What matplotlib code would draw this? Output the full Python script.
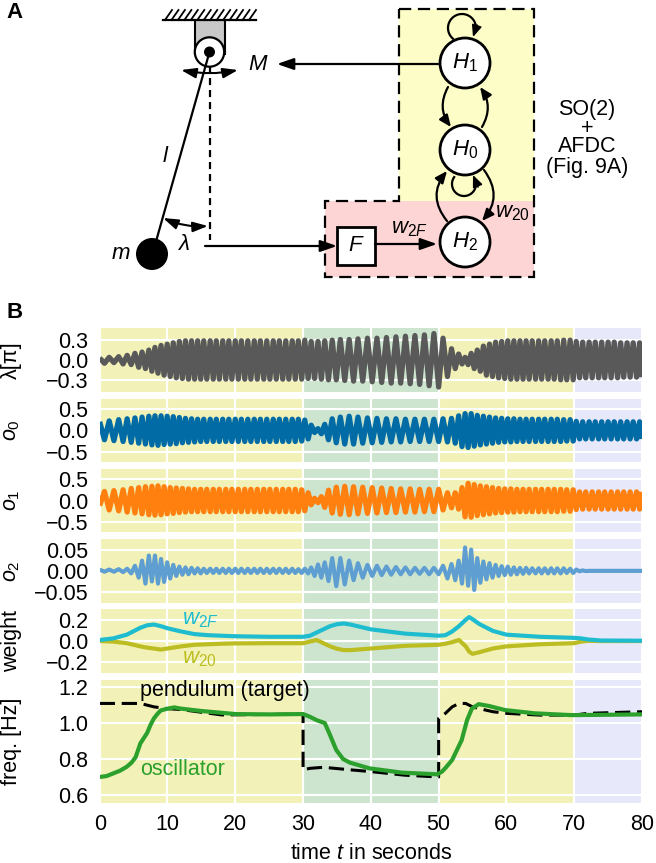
import numpy as np
import matplotlib
matplotlib.use('Agg')
import matplotlib.pyplot as plt
from matplotlib.patches import Circle, Rectangle, Polygon, FancyArrowPatch

plt.rcParams['font.family'] = ['Liberation Sans', 'DejaVu Sans']
plt.rcParams['mathtext.fontset'] = 'custom'
plt.rcParams['mathtext.rm'] = 'Liberation Sans'
plt.rcParams['mathtext.it'] = 'Liberation Sans:italic'
plt.rcParams['mathtext.bf'] = 'Liberation Sans:bold'

W, H = 656, 863

band_edges = [0, 30, 50, 70, 80]
band_colors = ['#f2f2b8', '#cde5cf', '#f2f2b8', '#e8e8fb']

# times of the oscillation extremes, read cycle by cycle
t_ext = [0.0, 0.7, 1.4, 2.1, 2.8, 3.45, 4.05, 4.65, 5.2, 5.75,
         6.25, 6.75, 7.25, 7.7, 8.15, 8.6, 9.05, 9.5, 9.95, 10.4,
         10.85, 11.3, 11.75, 12.2, 12.65, 13.1, 13.55, 14.0, 14.45, 14.9,
         15.35, 15.8, 16.3, 16.75, 17.2, 17.65, 18.15, 18.6, 19.05, 19.5,
         20.0, 20.45, 20.9, 21.4, 21.85, 22.3, 22.8, 23.25, 23.7, 24.2,
         24.65, 25.1, 25.6, 26.05, 26.5, 27.0, 27.45, 27.9, 28.4, 28.85,
         29.3, 29.8, 30.25, 30.75, 31.2, 31.7, 32.2, 32.7, 33.2, 33.75,
         34.3, 34.9, 35.5, 36.15, 36.8, 37.45, 38.1, 38.8, 39.5, 40.2,
         40.9, 41.6, 42.3, 43.0, 43.7, 44.4, 45.1, 45.8, 46.5, 47.2,
         47.9, 48.6, 49.3, 50.0, 50.65, 51.3, 51.9, 52.45, 52.95, 53.45,
         53.9, 54.35, 54.8, 55.25, 55.7, 56.15, 56.6, 57.05, 57.5, 57.95,
         58.4, 58.85, 59.3, 59.75, 60.2, 60.65, 61.1, 61.55, 62.0, 62.45,
         62.9, 63.35, 63.8, 64.3, 64.75, 65.2, 65.65, 66.15, 66.6, 67.05,
         67.5, 68.0, 68.45, 68.9, 69.4, 69.85, 70.3, 70.8, 71.25, 71.7,
         72.2, 72.65, 73.1, 73.6, 74.05, 74.5, 75.0, 75.45, 75.9, 76.4,
         76.85, 77.3, 77.8, 78.25, 78.7, 79.2, 79.65, 80.0]

# size of each half swing, sign flips every extreme
lam_amp = [.03, .05, .04, .04, .05, .06, .07, .07, .10, .11,
           .12, .13, .15, .17, .19, .20, .22, .23, .24, .25,
           .26, .27, .28, .28, .29, .29, .29, .29, .29, .29,
           .29, .29, .29, .29, .29, .29, .29, .29, .29, .29,
           .29, .29, .29, .29, .29, .29, .29, .29, .29, .29,
           .29, .29, .29, .29, .29, .29, .29, .29, .29, .29,
           .29, .29, .30, .28, .28, .28, .28, .29, .29, .30,
           .30, .30, .31, .31, .31, .32, .32, .32, .33, .33,
           .33, .34, .34, .35, .35, .35, .36, .36, .37, .37,
           .38, .39, .40, .41, .33, .25, .17, .13, .09, .06,
           .04, .07, .10, .13, .15, .17, .21, .23, .24, .25,
           .27, .27, .28, .28, .29, .29, .29, .29, .29, .29,
           .29, .29, .29, .29, .29, .29, .29, .29, .29, .29,
           .29, .30, .30, .30, .30, .30, .28, .27, .27, .27,
           .27, .27, .27, .27, .27, .27, .27, .27, .27, .27,
           .26, .26, .26, .26, .26, .26, .26, .26]

o0_amp = [.20, .22, .22, .24, .25, .26, .27, .28, .29, .30,
          .31, .32, .33, .34, .34, .35, .34, .33, .33, .32,
          .32, .31, .30, .29, .28, .28, .27, .27, .26, .26,
          .26, .26, .26, .26, .26, .26, .26, .26, .26, .26,
          .26, .26, .26, .26, .26, .26, .26, .26, .26, .26,
          .26, .26, .26, .26, .26, .26, .26, .26, .26, .26,
          .26, .25, .24, .20, .12, .05, .04, .08, .14, .22,
          .27, .29, .31, .32, .33, .32, .31, .30, .29, .29,
          .28, .28, .27, .27, .27, .27, .26, .26, .26, .26,
          .26, .26, .26, .26, .27, .27, .28, .30, .34, .38,
          .39, .40, .39, .37, .35, .34, .33, .32, .31, .30,
          .29, .28, .28, .27, .27, .27, .27, .26, .26, .26,
          .26, .26, .26, .26, .26, .26, .26, .26, .26, .26,
          .26, .26, .25, .25, .25, .25, .21, .20, .20, .20,
          .20, .20, .20, .20, .20, .20, .20, .20, .20, .20,
          .20, .20, .20, .20, .20, .20, .20, .20]

o1_amp = [.12, .21, .22, .23, .24, .25, .27, .28, .29, .30,
          .31, .32, .33, .33, .34, .34, .33, .32, .31, .30,
          .30, .29, .28, .28, .27, .27, .26, .26, .26, .26,
          .26, .26, .26, .26, .26, .26, .26, .26, .26, .26,
          .26, .26, .26, .26, .26, .26, .26, .26, .26, .26,
          .26, .26, .26, .26, .26, .26, .26, .26, .26, .26,
          .26, .25, .24, .18, .10, .05, .05, .09, .16, .24,
          .29, .31, .32, .33, .33, .32, .31, .31, .30, .30,
          .29, .29, .28, .28, .28, .27, .27, .27, .27, .26,
          .26, .26, .26, .26, .22, .18, .17, .18, .20, .30,
          .38, .40, .39, .37, .35, .34, .33, .32, .31, .30,
          .29, .28, .28, .27, .27, .27, .27, .26, .26, .26,
          .26, .26, .26, .26, .26, .26, .26, .26, .26, .26,
          .26, .26, .25, .25, .25, .25, .21, .20, .20, .20,
          .20, .20, .20, .20, .20, .20, .20, .20, .20, .20,
          .20, .20, .20, .20, .20, .20, .20, .20]

o2_amp = [.003, .002, .003, .002, .004, .003, .005, .006, .012, .016,
          .024, .030, .036, .025, .036, .030, .028, .026, .020, .018,
          .014, .012, .010, .009, .008, .008, .007, .006, .006, .006,
          .005, .005, .005, .005, .005, .005, .005, .005, .005, .005,
          .005, .005, .005, .005, .005, .005, .005, .005, .005, .005,
          .005, .005, .005, .005, .005, .005, .005, .005, .005, .005,
          .004, .005, .005, .006, .008, .012, .015, .016, .020, .024,
          .030, .036, .030, .032, .024, .022, .018, .016, .014, .012,
          .012, .010, .010, .009, .009, .008, .008, .008, .007, .007,
          .007, .008, .007, .008, .012, .018, .016, .022, .024, .030,
          .055, .035, .050, .045, .030, .028, .022, .020, .018, .016,
          .014, .012, .011, .010, .010, .009, .008, .008, .007, .007,
          .007, .006, .006, .006, .006, .006, .006, .006, .006, .006,
          .006, .006, .006, .005, .005, .005, .003, .001, .001, .0005,
          0, 0, 0, 0, 0, 0, 0, 0, 0, 0,
          0, 0, 0, 0, 0, 0, 0, 0]

t_w = [0, 2, 4, 6, 7, 8, 9, 10, 12, 14, 16, 18, 20, 25, 30, 31, 32, 33, 34, 35, 36, 37, 38,
       40, 45, 50, 51, 52, 53, 54, 54.5, 55, 56, 58, 60, 65, 70, 71, 72, 74, 80]
w2f = [.01, .025, .06, .125, .148, .155, .14, .12, .09, .065, .055, .05, .045, .04, .04, .05, .08, .11, .14, .158, .165, .155, .14,
       .11, .07, .05, .055, .09, .14, .20, .225, .205, .16, .095, .06, .04, .03, .025, .015, .005, .003]
w20 = [0, -.005, -.02, -.05, -.062, -.07, -.08, -.07, -.05, -.035, -.03, -.025, -.022, -.02, -.02, -.005, .01, -.02, -.05, -.072, -.085, -.085, -.08,
       -.07, -.045, -.035, -.025, -.01, .01, -.05, -.10, -.12, -.105, -.07, -.05, -.03, -.02, -.005, .002, 0, 0]

t_osc = [0, 1, 2, 3, 4, 4.7, 5.3, 6, 7, 7.5, 8, 8.5, 9, 10, 11, 12, 15, 20, 25, 30, 31, 32, 33.2, 33.9, 34.9, 35.9, 36.9, 39.8, 44.6, 49.8,
         50.5, 51, 52, 52.7, 53.4, 54.2, 54.9, 55.9, 57.4, 59.8, 64.2, 69.6, 80]
f_osc = [.70, .705, .72, .735, .757, .78, .81, .887, .945, .99, 1.026, 1.05, 1.07, 1.08, 1.087, 1.08, 1.067, 1.05, 1.048, 1.05, 1.035, 1.016, 1.0, .94, .85, .80, .78, .748, .724, .715,
         .73, .75, .795, .85, .905, 1.017, 1.08, 1.105, 1.095, 1.072, 1.054, 1.044, 1.048]

t_tgt = [0, 6, 8, 10, 12, 15, 18, 30, 30, 31, 33, 36.9, 40, 45, 50, 50, 51, 52, 53, 54, 55, 56, 58, 60, 65, 70, 72, 80]
f_tgt = [1.109, 1.109, 1.09, 1.08, 1.075, 1.06, 1.045, 1.05, .74, .748, .754, .74, .73, .71, .70, 1.026, 1.054, 1.09, 1.109, 1.109, 1.09, 1.08, 1.063, 1.054, 1.044, 1.044, 1.054, 1.063]

x_ticks = [0, 10, 20, 30, 40, 50, 60, 70, 80]


def px_axes(fig, top, bottom, left=99.7, right=642):
    return fig.add_axes([left / W, 1 - bottom / H, (right - left) / W, (bottom - top) / H])


def swing(amp, first=1):
    amp = np.array(amp)
    return first * amp * (-1.0) ** np.arange(len(amp))


def arrow(ax, a, b, rad=0.0, style='-|>', lw=1.6, hl=7, hw=3):
    ax.add_patch(FancyArrowPatch(a, b, connectionstyle='arc3,rad=%g' % rad,
                                 arrowstyle='%s,head_length=%g,head_width=%g' % (style, hl, hw),
                                 shrinkA=0, shrinkB=0, lw=lw, color='k', mutation_scale=1, zorder=4))


fig = plt.figure(figsize=(W / 100, H / 100), dpi=100)

# schematic, drawn in pixel coordinates
ov = fig.add_axes([0, 0, 1, 1])
ov.set_xlim(0, W)
ov.set_ylim(H, 0)
ov.axis('off')

ov.text(6, 13, 'A', fontsize=16, fontweight='bold', va='center')
ov.text(6, 312, 'B', fontsize=16, fontweight='bold', va='center')

# ceiling and bearing
ov.plot([163, 256], [20.5, 20.5], 'k', lw=1.6)
for hx in np.linspace(165, 249, 14):
    ov.plot([hx, hx + 7], [20, 10], 'k', lw=1.3)
ov.add_patch(Rectangle((195, 20.5), 30, 32, fc='#c8c8c8', ec='none', zorder=1))
ov.plot([195, 195], [20.5, 54], 'k', lw=1.5, zorder=2)
ov.plot([225, 225], [20.5, 54], 'k', lw=1.5, zorder=2)
ov.add_patch(Circle((209.5, 52), 14.7, fc='w', ec='k', lw=1.6, zorder=3))
ov.add_patch(Circle((209.5, 52), 5.5, fc='k', ec='none', zorder=5))

# pendulum
ov.plot([209.5, 155], [52, 245], 'k', lw=1.6, zorder=4)
ov.add_patch(Circle((152, 254), 16, fc='k', ec='none', zorder=5))
ov.plot([209.5, 209.5], [66, 240], color='k', lw=1.6, dashes=(3.2, 2.2), zorder=2)
arrow(ov, (181, 70), (238, 70), rad=0.1, style='<|-|>', lw=1.5, hl=9, hw=3)
arrow(ov, (163, 218), (208, 226), rad=0.12, style='<|-|>', lw=1.5, hl=9, hw=3)
ov.text(258, 65, '$M$', fontsize=16, ha='center', va='center')
ov.text(166, 157, '$l$', fontsize=16, ha='center', va='center')
ov.text(183, 244, '$\\lambda$', fontsize=16, ha='center', va='center')
ov.text(121, 253, '$m$', fontsize=16, ha='center', va='center')
arrow(ov, (438, 64), (277, 64), lw=1.6, hl=10, hw=3.5)
arrow(ov, (205, 246), (337, 246), lw=1.6, hl=10, hw=3.5)

# network boxes
ov.add_patch(Rectangle((399, 9), 135, 192, fc='#fdfdc8', ec='none', zorder=0))
ov.add_patch(Rectangle((325, 201), 209, 76, fc='#fdd5d5', ec='none', zorder=0))
ov.add_patch(Polygon([(399, 9), (534, 9), (534, 277), (325, 277), (325, 201), (399, 201)], closed=True,
                     fc='none', ec='k', lw=1.6, ls=(0, (5.5, 3)), zorder=2))

node_xy = {'1': (465, 63), '0': (465, 150), '2': (465, 242)}
for name, xy in node_xy.items():
    ov.add_patch(Circle(xy, 25, fc='w', ec='k', lw=2, zorder=6))
    ov.text(xy[0], xy[1], '$H_%s$' % name, fontsize=16, ha='center', va='center', zorder=7)

arrow(ov, (448, 87), (451, 127), rad=0.32, lw=1.6)
arrow(ov, (482, 127), (480, 87), rad=0.32, lw=1.6)
arrow(ov, (484, 170), (482, 221), rad=-0.4, lw=1.6)
arrow(ov, (447, 221), (447, 171), rad=-0.4, lw=1.6)

th = np.radians(np.linspace(130, 375, 40))
ov.plot(462 + 14 * np.cos(th), 28 + 14 * np.sin(th), 'k', lw=1.6, zorder=3)
arrow(ov, (477, 25), (473, 37), lw=1.2)
th = np.radians(np.linspace(215, -15, 40))
ov.plot(464 + 12 * np.cos(th), 184 + 12 * np.sin(th), 'k', lw=1.6, zorder=3)
arrow(ov, (478, 187), (473, 175), lw=1.2)

ov.add_patch(Rectangle((337, 227), 38, 38, fc='w', ec='k', lw=2, zorder=3))
ov.text(356, 245, '$F$', fontsize=16, ha='center', va='center', zorder=4)
arrow(ov, (375, 244), (437, 244), lw=1.6, hl=10, hw=3.5)
ov.text(409, 228, '$w_{2F}$', fontsize=16, ha='center', va='center')
ov.text(512, 212, '$w_{20}$', fontsize=16, ha='center', va='center', zorder=7)

for ty, line in zip([109, 128, 147, 168], ['SO(2)', '+', 'AFDC', '(Fig. 9A)']):
    ov.text(587, ty, line, fontsize=15.5, ha='center', va='center')

# time series panels
tops = [328, 398.7, 468.7, 539, 609.3, 679.7]
bottoms = [391.7, 462, 532.3, 602.7, 672.7, 802.7]
ylims = [(-.48, .484), (-.74, .74), (-.74, .74), (-.075, .075), (-.297, .298), (.557, 1.241)]
yticks = [[-.3, 0, .3], [-.5, 0, .5], [-.5, 0, .5], [-.05, 0, .05], [-.2, 0, .2], [.6, .8, 1.0, 1.2]]
yfmts = ['%.1f', '%.1f', '%.1f', '%.2f', '%.1f', '%.1f']
ylabels = ['λ[π]', '$o_0$', '$o_1$', '$o_2$', 'weight', 'freq. [Hz]']

axs = []
for i in range(6):
    ax = px_axes(fig, tops[i], bottoms[i])
    for k in range(4):
        ax.axvspan(band_edges[k], band_edges[k + 1], color=band_colors[k], lw=0, zorder=0)
    ax.set_xlim(0, 80)
    ax.set_ylim(*ylims[i])
    ax.set_xticks(x_ticks)
    ax.set_yticks(yticks[i])
    ax.set_yticklabels([(yfmts[i] % v).replace('-', '\u2212') for v in yticks[i]])
    ax.grid(True, color='w', lw=1.5, zorder=1)
    ax.set_axisbelow(False)
    ax.tick_params(length=0, labelsize=15.5, pad=8)
    ax.set_ylabel(ylabels[i], fontsize=15.5, va='center')
    ax.yaxis.set_label_coords(-0.162, 0.5)
    for s in ax.spines.values():
        s.set_visible(False)
    if i < 5:
        ax.tick_params(labelbottom=False)
    axs.append(ax)

# white grid stays under the curves
line_kw = dict(lw=3, solid_joinstyle='round', solid_capstyle='butt', zorder=3)
thick_kw = dict(line_kw, lw=3.8)
axs[0].plot(t_ext, swing(lam_amp), color='#595959', **thick_kw)
axs[1].plot(t_ext, swing(o0_amp), color='#006ba4', **thick_kw)
axs[2].plot(t_ext, swing(o1_amp, -1), color='#ff800e', **thick_kw)
axs[3].plot(t_ext, swing(o2_amp), color='#5f9ed1', **line_kw)
axs[4].plot(t_w, w20, color='#bcbd22', **line_kw)
axs[4].plot(t_w, w2f, color='#1fbccf', **line_kw)
axs[5].plot(t_tgt, f_tgt, color='k', lw=2.2, dashes=(5, 2.2), zorder=3)
axs[5].plot(t_osc, f_osc, color='#2ca02c', **line_kw)

axs[4].text(12.1, .2, '$w_{2F}$', color='#1fbccf', fontsize=16, va='center')
axs[4].text(12.1, -.16, '$w_{20}$', color='#bcbd22', fontsize=16, va='center')
axs[5].text(5.9, 1.183, 'pendulum (target)', color='k', fontsize=15.5, va='center')
axs[5].text(5.9, .74, 'oscillator', color='#2ca02c', fontsize=15.5, va='center')
axs[5].set_xlabel('time $t$ in seconds', fontsize=15.5, labelpad=6)

fig.savefig('out.png', dpi=100)
